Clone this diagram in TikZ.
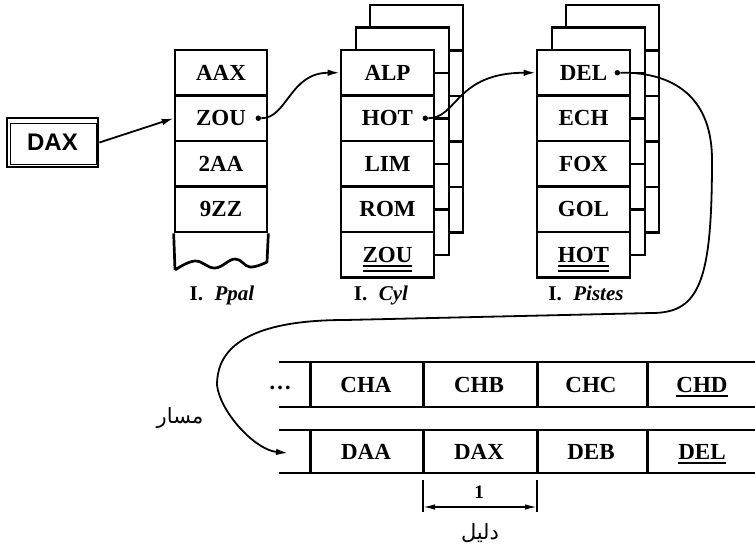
\documentclass[tikz,border=0pt]{standalone}
\usepackage{fontspec}
\setmainfont{Liberation Serif}
\newfontfamily\arabicfont[Script=Arabic]{DejaVu Sans}
\newfontfamily\daxfont{Liberation Sans}
\TeXXeTstate=1
\usetikzlibrary{arrows.meta,calc}
\newcommand\cellfont{\fontsize{23}{26}\selectfont\bfseries}
\newcommand\labfont{\fontsize{21}{24}\selectfont\bfseries}
\newcommand\ulone[1]{\setbox0\hbox{#1}\rlap{\smash{\rule[-4pt]{\wd0}{1.4pt}}}\copy0}
\newcommand\ultwo[1]{\setbox0\hbox{#1}\rlap{\smash{\rule[-4.5pt]{\wd0}{1.3pt}}}\rlap{\smash{\rule[-9.5pt]{\wd0}{1.3pt}}}\copy0}
\begin{document}
\begin{tikzpicture}[x=1pt,y=-1pt,
  cell/.style={draw,line width=2.7pt,fill=white,minimum width=93pt,minimum height=45.5pt,inner sep=0pt,font=\cellfont},
  pcell/.style={cell,minimum width=92pt},
  daxbox/.style={draw,line width=2.8pt,minimum width=91pt,minimum height=49pt,inner sep=0pt,font={\fontsize{24}{27}\daxfont\bfseries}},
  dotn/.style={circle,fill=black,inner sep=0pt,minimum size=5.5pt},
  conn/.style={line width=1.8pt,-{Latex[length=12pt,width=6.5pt]}},
  rowline/.style={line width=2.2pt},
  rowsep/.style={line width=3pt},
  txt/.style={font=\cellfont,inner sep=0pt},
  lab/.style={font=\labfont,inner sep=0pt,anchor=base},
  arab/.style={font={\fontsize{21}{24}\arabicfont},inner sep=0pt}]
\useasboundingbox[fill=white] (0,0) rectangle (755,559);

% ---------- DAX key ----------
\node[daxbox] (dax) at (52.5,142.5) {DAX};
\draw[line width=1.1pt] ([shift={(5,7)}]dax.north west) rectangle ([shift={(-3,-4)}]dax.south east);

% ---------- I. Ppal ----------
\foreach \t [count=\i] in {AAX,ZOU,2AA,9ZZ}
  \node[pcell] (p\i) at (221,{72.75+45.5*(\i-1)}) {\t};
\draw[line width=2.7pt,line join=round] (p4.south west) -- (175,270)
  plot[smooth,tension=0.7] coordinates {(175,270) (195,261) (215,268) (235,259) (250,267) (267,262)}
  -- (p4.south east);
\node[lab] (lppal) at (222,300) {I.\hspace{0.55em}\textit{Ppal}};

% ---------- I. Cyl ----------
\foreach \k/\dx/\dy in {2/29/-45,1/15/-22.5}
  \foreach \i in {1,...,5}
    \node[cell] (cb\k r\i) at ({387.5+\dx},{72.75+45.5*(\i-1)+\dy}) {};
\foreach \t [count=\i] in {ALP,HOT,LIM,ROM,\ultwo{ZOU}}
  \node[cell] (c\i) at (387.5,{72.75+45.5*(\i-1)}) {\t};
\node[lab] (lcyl) at (381,300) {I.\hspace{0.55em}\textit{Cyl}};

% ---------- I. Pistes ----------
\foreach \k/\dx/\dy in {2/29/-45,1/15/-22.5}
  \foreach \i in {1,...,5}
    \node[cell] (sb\k r\i) at ({583.5+\dx},{72.75+45.5*(\i-1)+\dy}) {};
\foreach \t [count=\i] in {DEL,ECH,FOX,GOL,\ultwo{HOT}}
  \node[cell] (s\i) at (583.5,{72.75+45.5*(\i-1)}) {\t};
\node[lab] (lpis) at (586,300) {I.\hspace{0.55em}\textit{Pistes}};

% ---------- pointers ----------
\node[dotn] (d1) at ([xshift=-10pt]p2.east) {};
\node[dotn] (d2) at ([xshift=-10pt]c2.east) {};
\node[dotn] (d3) at ([xshift=-14pt]s1.east) {};

\draw[conn] (dax.east) -- (p2.west);
\draw[conn] (d1) .. controls +(29,0) and +(-50,0) .. (c1.west);
\draw[conn] (d2) .. controls +(32,0) and +(-80,0) .. (s1.west);

% ---------- track ----------
\coordinate (tin) at (288,453);
\draw[conn] (d3) .. controls (665,72) and (712,90) .. (712,160)
  .. controls (712,280) and (700,313) .. (652,313) -- (345,320)
  .. controls (230,320) and (217,360) .. (217,385)
  .. controls (220,412) and (255,450) .. (tin);

\foreach \y in {362,407,430,473}
  \draw[rowline] (279,\y) -- (756,\y);
\foreach \x in {310,423,537,647} {
  \draw[rowsep] (\x,362) -- (\x,407);
  \draw[rowsep] (\x,430) -- (\x,473);
}
\node[txt,anchor=base] (dots) at (280,389) {…};
\foreach \t/\x [count=\i] in {CHA/366,CHB/479,CHC/591,\ulone{CHD}/702}
  \node[txt] (t\i) at (\x,385) {\t};
\foreach \t/\x [count=\i] in {DAA/366,DAX/479,DEB/591,\ulone{DEL}/702}
  \node[txt] (u\i) at (\x,452) {\t};

\node[arab] (masar) at (180,418) {\beginR مسار\endR};

% ---------- dimension ----------
\coordinate (k1a) at (423,480); \coordinate (k1b) at (423,512);
\coordinate (k2a) at (537,480); \coordinate (k2b) at (537,512);
\draw[line width=1.6pt] (k1a) -- (k1b) (k2a) -- (k2b);
\coordinate (m1) at (423,507); \coordinate (m2) at (537,507);
\draw[line width=1.5pt,{Latex[length=12pt,width=5.5pt]}-{Latex[length=12pt,width=5.5pt]}] (m1) -- (m2);
\node[txt,font={\fontsize{19}{21}\selectfont\bfseries}] (one) at (479,492) {1};
\node[arab] (dalil) at (480,533) {\beginR دليل\endR};
\end{tikzpicture}
\end{document}
